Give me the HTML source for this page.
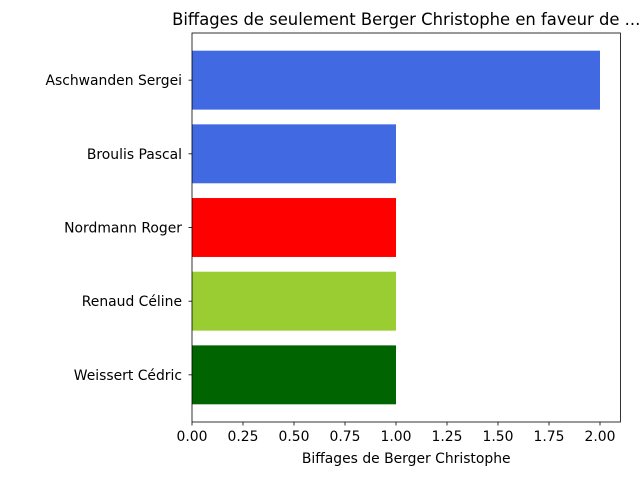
<!DOCTYPE html>
<html><head><meta charset="utf-8"><style>
body{margin:0;background:#fff;}
svg text{font-family:"DejaVu Sans","Liberation Sans",sans-serif;fill:#000;}
</style></head><body>
<svg id="chart" width="640" height="480" xmlns="http://www.w3.org/2000/svg">
<rect width="640" height="480" fill="#fff"/>
<g id="plot"></g>
</svg>
<script>
const categories=["Aschwanden Sergei","Broulis Pascal","Nordmann Roger","Renaud Céline","Weissert Cédric"];
const values=[2,1,1,1,1];
const colors=["#4169e1","#4169e1","#ff0000","#9acd32","#006400"];
const xTicks=[0,0.25,0.5,0.75,1,1.25,1.5,1.75,2];
const xTickLabels=["0.00","0.25","0.50","0.75","1.00","1.25","1.50","1.75","2.00"];
const L=192,R=620.4,T=33,B=422;
const xmin=0,xmax=2.1,ymin=-0.64,ymax=4.64;
const NS="http://www.w3.org/2000/svg";
const g=document.getElementById('plot');
function xs(v){return L+(v-xmin)/(xmax-xmin)*(R-L);}
function ys(i){return T+(i-ymin)/(ymax-ymin)*(B-T);}
function mk(tag,attrs,txt){const e=document.createElementNS(NS,tag);for(const k in attrs)e.setAttribute(k,attrs[k]);if(txt!==undefined)e.textContent=txt;g.appendChild(e);return e;}
categories.forEach((c,i)=>{
  const y0=ys(i-0.4),y1=ys(i+0.4);
  const r=mk('rect',{x:xs(0),y:y0,width:xs(values[i])-xs(0),height:y1-y0,fill:colors[i]});
  
  
  mk('line',{x1:L,x2:L-3.5,y1:ys(i),y2:ys(i),stroke:'#000','stroke-width':0.8});
  const t=mk('text',{x:L-10,y:ys(i)+5,'text-anchor':'end','font-size':'13.9px'},c);
  
  
});
xTicks.forEach((v,i)=>{
  mk('line',{x1:xs(v),x2:xs(v),y1:B,y2:B+3.5,stroke:'#000','stroke-width':0.8});
  const t=mk('text',{x:xs(v),y:B+19,'text-anchor':'middle','font-size':'13.9px'},xTickLabels[i]);
  
  
});
const fr=mk('rect',{x:L,y:T,width:R-L,height:B-T,fill:'none',stroke:'#000','stroke-width':0.8});


const xl=mk('text',{x:(L+R)/2,y:463,'text-anchor':'middle','font-size':'13.9px'},'Biffages de Berger Christophe');


const ti=mk('text',{x:(L+R)/2,y:25,'text-anchor':'middle','font-size':'16.4px'},'Biffages de seulement Berger Christophe en faveur de ...');


</script>
</body></html>
